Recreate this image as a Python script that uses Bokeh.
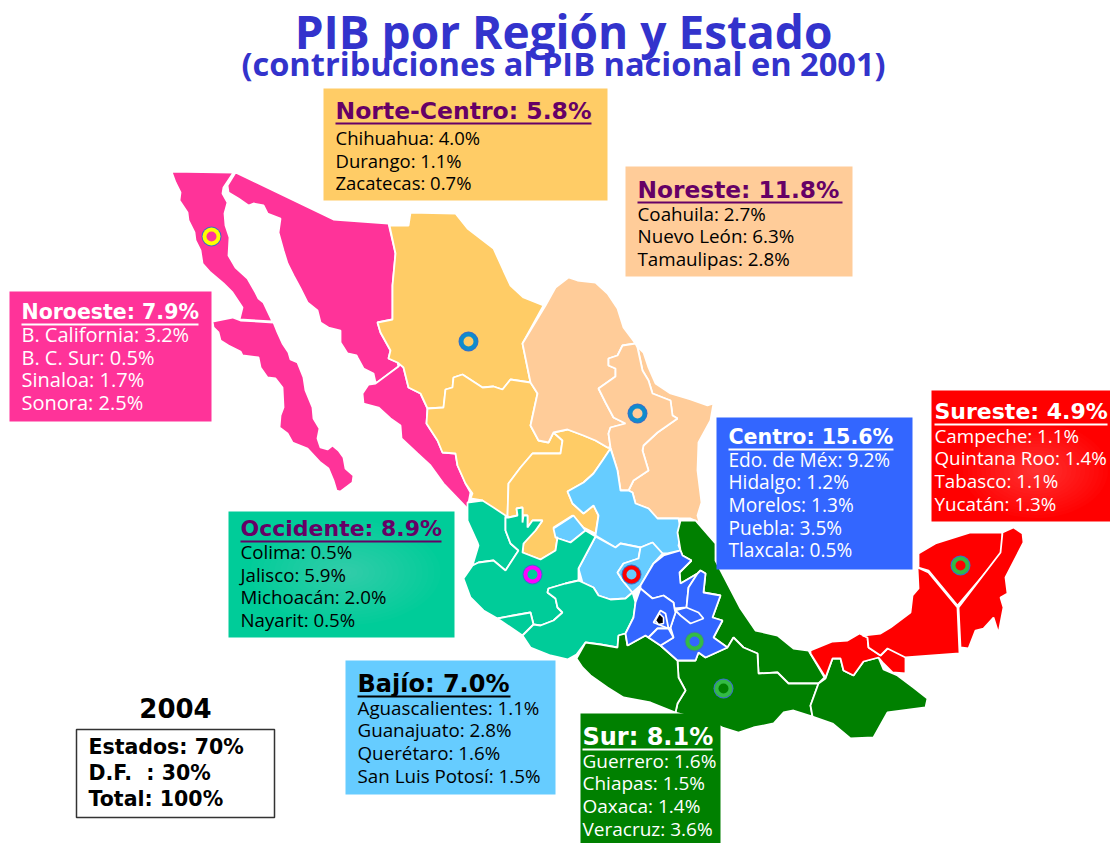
from bokeh.plotting import figure
from bokeh.models import Range1d
from bokeh.core.properties import value
from bokeh.embed import file_html
from bokeh.resources import INLINE

# ---------- data ----------
title_text = "PIB por Región y Estado"
subtitle_text = "(contribuciones al PIB nacional en 2001)"

noroeste_states = ["B. California", "B. C. Sur", "Sinaloa", "Sonora"]
noroeste_values = [3.2, 0.5, 1.7, 2.5]
nortecentro_states = ["Chihuahua", "Durango", "Zacatecas"]
nortecentro_values = [4.0, 1.1, 0.7]
noreste_states = ["Coahuila", "Nuevo León", "Tamaulipas"]
noreste_values = [2.7, 6.3, 2.8]
occidente_states = ["Colima", "Jalisco", "Michoacán", "Nayarit"]
occidente_values = [0.5, 5.9, 2.0, 0.5]
bajio_states = ["Aguascalientes", "Guanajuato", "Querétaro", "San Luis Potosí"]
bajio_values = [1.1, 2.8, 1.6, 1.5]
centro_states = ["Edo. de Méx", "Hidalgo", "Morelos", "Puebla", "Tlaxcala"]
centro_values = [9.2, 1.2, 1.3, 3.5, 0.5]
sur_states = ["Guerrero", "Chiapas", "Oaxaca", "Veracruz"]
sur_values = [1.6, 1.5, 1.4, 3.6]
sureste_states = ["Campeche", "Quintana Roo", "Tabasco", "Yucatán"]
sureste_values = [1.1, 1.4, 1.1, 1.3]

region_totals = {"Noroeste": 7.9, "Norte-Centro": 5.8, "Noreste": 11.8, "Occidente": 8.9,
                 "Bajío": 7.0, "Centro": 15.6, "Sur": 8.1, "Sureste": 4.9}

summary_year = "2004"
summary_lines = ["Estados: 70%", "D.F.\u00a0\u00a0: 30%", "Total: 100%"]

baja_california = [(171,171),(233,172),(223,187),(222,193),(227,202),(224,213),(225,225),(229,237),(228,255),(235,267),(247,278),(255,292),(258,298),(263,302),(272,321),(239,319),(242,307),(232,292),(223,283),(210,272),(202,263),(200,250),(195,240),(194,232),(188,220),(187,212),(179,200),(180,192),(175,182)]
baja_sur = [(212,321),(232,317),(240,320),(273,322),(277,332),(282,343),(288,352),(290,359),(297,362),(303,377),(305,390),(312,407),(313,418),(319,428),(317,438),(320,447),(327,449),(332,445),(338,450),(343,457),(345,468),(353,475),(352,482),(340,491),(336,490),(333,480),(328,468),(320,462),(307,448),(292,442),(287,433),(279,427),(280,415),(283,407),(282,387),(275,378),(267,377),(260,367),(258,357),(242,355),(240,351),(228,345),(220,340),(218,332),(213,327)]
sonora = [(235,172),(333,219),(388,223),(395,253),(392,285),(392,319),(377,322),(380,332),(390,350),(388,358),(397,362),(398,366),(377,382),(375,382),(373,373),(363,368),(357,357),(356,355),(347,353),(340,342),(340,330),(328,327),(320,322),(317,310),(307,302),(300,288),(293,275),(287,263),(283,250),(278,232),(280,218),(267,213),(263,205),(253,203),(248,205),(238,198),(228,192),(227,185)]
sinaloa = [(375,383),(398,366),(400,363),(403,367),(408,387),(420,393),(427,408),(426,423),(437,440),(442,452),(455,453),(457,465),(465,483),(470,492),(467,508),(443,483),(430,465),(417,453),(401,438),(400,425),(390,418),(378,407),(363,403),(362,393),(368,384)]
chihuahua = [(389,225),(408,225),(410,212),(455,213),(467,228),(493,248),(503,270),(510,285),(523,297),(543,305),(522,343),(530,382),(510,379),(502,389),(493,386),(482,387),(462,374),(453,377),(452,387),(445,389),(443,407),(427,408),(420,393),(408,387),(403,367),(397,362),(388,358),(390,350),(380,332),(377,322),(392,319),(392,285),(395,253)]
durango = [(427,408),(443,407),(445,389),(452,387),(453,377),(462,374),(482,387),(493,386),(502,389),(510,379),(530,382),(537,393),(530,425),(538,440),(548,442),(553,432),(562,440),(560,453),(532,453),(520,467),(508,483),(507,515),(503,516),(483,508),(482,500),(470,498),(472,493),(465,483),(457,465),(455,453),(442,452),(437,440),(426,423)]
zacatecas = [(553,432),(567,429),(583,435),(595,440),(607,447),(610,448),(602,460),(593,473),(583,482),(567,491),(572,503),(583,513),(593,505),(598,515),(595,533),(583,527),(572,515),(553,527),(557,537),(555,550),(540,559),(522,552),(523,543),(535,530),(542,520),(532,520),(527,527),(527,515),(523,515),(522,522),(522,507),(516,508),(517,515),(508,517),(507,515),(508,483),(520,467),(532,453),(560,453),(562,440)]
coahuila = [(545,305),(555,287),(568,277),(577,280),(595,282),(607,293),(617,308),(623,327),(635,343),(622,345),(617,355),(608,358),(608,365),(615,368),(615,376),(598,388),(605,402),(613,417),(625,423),(610,427),(608,433),(610,447),(607,447),(595,440),(583,435),(567,429),(553,432),(548,442),(538,440),(530,425),(537,393),(530,382),(522,343)]
nuevo_leon = [(635,343),(637,347),(642,370),(648,380),(652,393),(670,400),(672,415),(677,418),(657,432),(643,445),(642,450),(648,470),(633,480),(628,490),(620,490),(617,470),(610,447),(608,433),(610,427),(625,423),(613,417),(605,402),(598,388),(615,376),(615,368),(608,365),(608,358),(617,355),(622,345)]
tamaulipas = [(637,346),(643,352),(648,367),(655,383),(670,393),(690,399),(707,405),(713,403),(710,420),(698,442),(697,470),(701,502),(697,515),(699,522),(690,518),(678,518),(657,518),(648,508),(635,503),(632,492),(628,490),(633,480),(648,470),(642,450),(643,445),(657,432),(677,418),(672,415),(670,400),(652,393),(648,380),(642,370)]
aguascalientes = [(553,528),(573,515),(585,530),(570,542),(555,537)]
san_luis = [(610,448),(617,470),(620,490),(628,490),(632,492),(635,503),(648,508),(657,518),(678,518),(681,533),(678,545),(680,550),(667,553),(662,553),(652,542),(640,547),(620,543),(615,547),(595,535),(598,515),(593,505),(583,513),(572,503),(567,491),(583,482),(593,473),(602,460)]
guanajuato = [(595,536),(578,568),(582,582),(593,587),(598,595),(610,599),(625,598),(632,592),(622,580),(617,572),(623,563),(638,558),(640,547),(620,543),(615,547)]
queretaro = [(640,547),(652,542),(662,553),(653,563),(640,585),(632,592),(622,580),(617,572),(623,563),(638,558)]
hidalgo = [(640,585),(653,563),(663,555),(680,550),(682,555),(691,560),(679,572),(680,583),(697,573),(688,587),(686,607),(674,608),(673,602),(663,595),(652,598),(640,588)]
edomex = [(640,588),(652,598),(663,595),(673,602),(674,608),(675,612),(670,627),(668,628),(657,628),(648,637),(645,635),(627,645),(625,633),(633,617),(635,602)]
morelos = [(648,637),(657,628),(668,628),(673,637),(660,645)]
puebla = [(697,573),(700,570),(705,573),(703,592),(720,595),(712,617),(722,620),(713,637),(727,647),(705,657),(698,652),(695,660),(677,660),(660,645),(673,637),(670,627),(675,612),(686,607),(688,587)]
tlaxcala = [(675,610),(686,607),(698,612),(703,618),(690,623),(680,615)]
df_frame = [(660,610),(653,622),(668,628),(665,613)]
df_core = [(659,613),(655,620),(658,624),(663,623),(663,617)]
veracruz = [(680,520),(695,520),(715,543),(715,560),(728,585),(740,608),(755,630),(777,635),(793,648),(808,650),(811,655),(817,665),(824,677),(818,683),(788,683),(777,672),(758,673),(757,653),(743,647),(733,637),(727,647),(713,637),(722,620),(712,617),(720,595),(703,592),(705,573),(700,570),(697,573),(680,583),(679,572),(691,560),(682,555),(680,550),(677,532)]
oaxaca = [(677,660),(695,660),(698,652),(705,657),(727,647),(733,637),(743,647),(757,653),(758,673),(777,672),(788,683),(818,683),(810,705),(812,716),(793,710),(783,712),(773,723),(753,727),(738,732),(722,727),(712,722),(675,712),(677,703),(685,690),(678,677)]
guerrero = [(576,658),(585,642),(600,644),(617,647),(618,635),(625,633),(627,645),(645,635),(648,637),(660,645),(677,660),(678,677),(685,690),(677,703),(675,712),(650,702),(623,697),(607,687),(590,675),(582,667)]
chiapas = [(818,683),(825,678),(832,658),(840,658),(843,670),(853,675),(863,661),(878,657),(883,669),(897,675),(913,687),(927,698),(925,707),(887,712),(873,737),(850,738),(832,723),(812,716),(810,705)]
tabasco = [(810,650),(832,641),(847,640),(859,633),(867,637),(868,647),(880,655),(887,648),(905,653),(905,673),(892,672),(883,663),(878,657),(863,661),(853,675),(843,670),(840,658),(832,658),(825,677),(810,653)]
campeche = [(862,635),(880,633),(890,627),(910,612),(912,595),(918,588),(917,567),(928,572),(957,607),(959,653),(905,657),(887,648),(880,655),(868,647),(867,637)]
yucatan = [(918,567),(918,553),(935,543),(970,532),(1002,532),(1002,552),(957,605),(928,570)]
quintana_roo = [(1002,532),(1013,527),(1022,533),(1023,542),(1005,577),(1007,593),(1000,597),(1003,607),(998,633),(993,617),(983,628),(975,630),(968,648),(960,647),(958,607),(1000,552)]
nayarit = [(467,502),(482,500),(493,507),(505,515),(505,530),(510,543),(518,550),(505,570),(493,560),(478,562),(472,565),(478,545),(477,542),(467,520)]
jalisco = [(505,517),(508,517),(517,515),(516,508),(522,507),(522,522),(523,515),(527,515),(527,527),(532,520),(542,520),(535,530),(523,543),(522,552),(540,559),(555,550),(557,537),(555,537),(570,542),(585,530),(595,536),(578,568),(578,580),(565,583),(548,588),(547,592),(555,598),(557,607),(562,612),(553,620),(540,625),(533,624),(530,612),(513,615),(497,618),(483,610),(470,597),(463,578),(472,565),(478,562),(493,560),(505,570),(518,550),(510,543),(505,530)]
colima = [(497,618),(513,615),(530,612),(533,624),(522,635)]
michoacan = [(578,580),(593,587),(598,595),(610,599),(625,598),(632,592),(635,602),(633,617),(625,633),(618,635),(617,647),(600,644),(585,642),(576,654),(567,659),(550,655),(530,647),(522,635),(533,624),(540,625),(553,620),(562,612),(557,607),(555,598),(547,592),(548,588),(565,583)]

# ---------- styling ----------
COL_NOROESTE = "#FF3399"
COL_NORTEC = "#FFCC66"
COL_NORESTE = "#FFCC99"
COL_OCC = "#00CC99"
COL_BAJIO = "#66CCFF"
COL_CENTRO = "#3366FF"
COL_SUR = "#008000"
COL_SURESTE = "#FF0000"
PURPLE = "#660066"
TITLE_BLUE = "#3333CC"
BODY_FONT = "Open Sans"
HEAD_FONT = "DejaVu Sans"

p = figure(width=1110, height=843, x_range=Range1d(0, 1110), y_range=Range1d(843, 0),
           toolbar_location=None, output_backend="svg", min_border=0,
           outline_line_color=None, background_fill_color="white", border_fill_color="white")
p.axis.visible = False
p.grid.visible = False

map_layers = [
    (COL_NOROESTE, [baja_california, baja_sur, sonora, sinaloa]),
    (COL_NORTEC, [chihuahua, durango, zacatecas]),
    (COL_NORESTE, [coahuila, tamaulipas, nuevo_leon]),
    (COL_BAJIO, [san_luis, guanajuato, queretaro, aguascalientes]),
    (COL_OCC, [nayarit, jalisco, colima, michoacan]),
    (COL_SUR, [veracruz, oaxaca, guerrero, chiapas]),
    (COL_CENTRO, [hidalgo, puebla, edomex, morelos, tlaxcala]),
    (COL_SURESTE, [tabasco, campeche, yucatan, quintana_roo]),
]
for color, shapes in map_layers:
    p.patches([[q[0] for q in s] for s in shapes], [[q[1] for q in s] for s in shapes],
              fill_color=color, line_color="white", line_width=1.8)

p.patch([q[0] for q in df_frame], [q[1] for q in df_frame], fill_color=COL_CENTRO, line_color="white", line_width=1.8)
p.patch([q[0] for q in df_core], [q[1] for q in df_core], fill_color="black", line_color="white", line_width=1.5)

# rings: x, y, ring colour, inner colour
rings = [
    (211, 236, "#FFFF00", COL_NOROESTE),
    (468, 341, "#0F8CCC", COL_NORTEC),
    (637, 413, "#0F8CCC", COL_NORESTE),
    (532, 574, "#FF00FF", COL_OCC),
    (631, 574, "#FF0000", COL_BAJIO),
    (694, 641, "#33BB44", COL_CENTRO),
    (723, 688, "#33BB44", COL_SUR),
    (960, 565, "#33BB44", COL_SURESTE),
]
for x, y, ring, inner in rings:
    p.scatter([x], [y], size=20, fill_color="#3A6FC8", line_color=None)
    p.scatter([x], [y], size=18, fill_color=ring, line_color=None)
    p.scatter([x], [y], size=10, fill_color=inner, line_color=None)

# label boxes: region, states, values, box, fill, heading colour, text colour, text x, heading y,
# first-line y, underline right, heading px, body px, glow (x, y, w, h) or None
boxes = [
    ("Norte-Centro", nortecentro_states, nortecentro_values, (323, 607, 88, 200), COL_NORTEC, PURPLE, "black", 335, 110, 137, 591, 23.5, 18.5, None),
    ("Noreste", noreste_states, noreste_values, (625, 852, 166, 276), COL_NORESTE, PURPLE, "black", 637, 189, 213, 842, 23.3, 18.8, None),
    ("Noroeste", noroeste_states, noroeste_values, (9, 211, 291, 421), COL_NOROESTE, "white", "white", 21, 311, 334, 198, 20.5, 20, None),
    ("Occidente", occidente_states, occidente_values, (228, 454, 511, 637), COL_OCC, PURPLE, "black", 240, 528, 551, 441, 22, 18.7, (345, 572, 190, 105)),
    ("Bajío", bajio_states, bajio_values, (345, 555, 660, 794), COL_BAJIO, "black", "black", 357, 683, 707, 510, 24, 18.8, None),
    ("Centro", centro_states, centro_values, (716, 912, 417, 569), COL_CENTRO, "white", "white", 728, 436, 459, 893, 20.6, 19.1, None),
    ("Sur", sur_states, sur_values, (580, 720, 713, 843), COL_SUR, "white", "white", 582, 736, 760, 712, 24, 19, None),
    ("Sureste", sureste_states, sureste_values, (931, 1110, 390, 521), COL_SURESTE, "white", "white", 934, 411, 435, 1107, 22, 18.8, (1035, 470, 145, 95)),
]
for name, states, vals, (l, r, t, b), fill, hcol, tcol, tx, hy, ly, ur, hpx, bpx, glow in boxes:
    p.quad(left=[l], right=[r], top=[t], bottom=[b], fill_color=fill, line_color=None)
    if glow:
        gx, gy, gw, gh = glow
        for k in range(1, 17):
            p.ellipse([gx], [gy], width=[gw * k / 16], height=[gh * k / 16],
                      fill_color="white", fill_alpha=0.016, line_color=None)
    p.text([tx], [hy], text=[f"{name}: {region_totals[name]:.1f}%"], text_font=value(HEAD_FONT),
           text_font_style="bold", text_font_size=f"{hpx}px", text_color=hcol,
           text_baseline="middle", text_align="left")
    p.segment([tx], [hy + 13], [ur], [hy + 13], line_color=hcol, line_width=2.2)
    p.text([tx] * len(states), [ly + i * 22.7 for i in range(len(states))],
           text=[f"{s}: {v:.1f}%" for s, v in zip(states, vals)], text_font=value(BODY_FONT),
           text_font_size=f"{bpx}px", text_color=tcol, text_baseline="middle", text_align="left")

# title
p.text([563], [30], text=[title_text], text_font=value("Open Sans"), text_font_style="bold",
       text_font_size="46px", text_color=TITLE_BLUE, text_align="center", text_baseline="middle")
p.text([563], [63], text=[subtitle_text], text_font=value("Open Sans"), text_font_style="bold",
       text_font_size="32.6px", text_color=TITLE_BLUE, text_align="center", text_baseline="middle")

# summary box
p.text([175], [707], text=[summary_year], text_font=value("DejaVu Sans"), text_font_style="bold",
       text_font_size="26px", text_color="black", text_align="center", text_baseline="middle")
p.quad(left=[76], right=[274], top=[729], bottom=[817], fill_color="white", line_color="#333333", line_width=1.5)
p.text([88, 88, 88], [746, 772, 798], text=summary_lines, text_font=value("DejaVu Sans"), text_font_style="bold",
       text_font_size="20.5px", text_color="black", text_align="left", text_baseline="middle")

open("out.html", "w").write(file_html(p, INLINE))
